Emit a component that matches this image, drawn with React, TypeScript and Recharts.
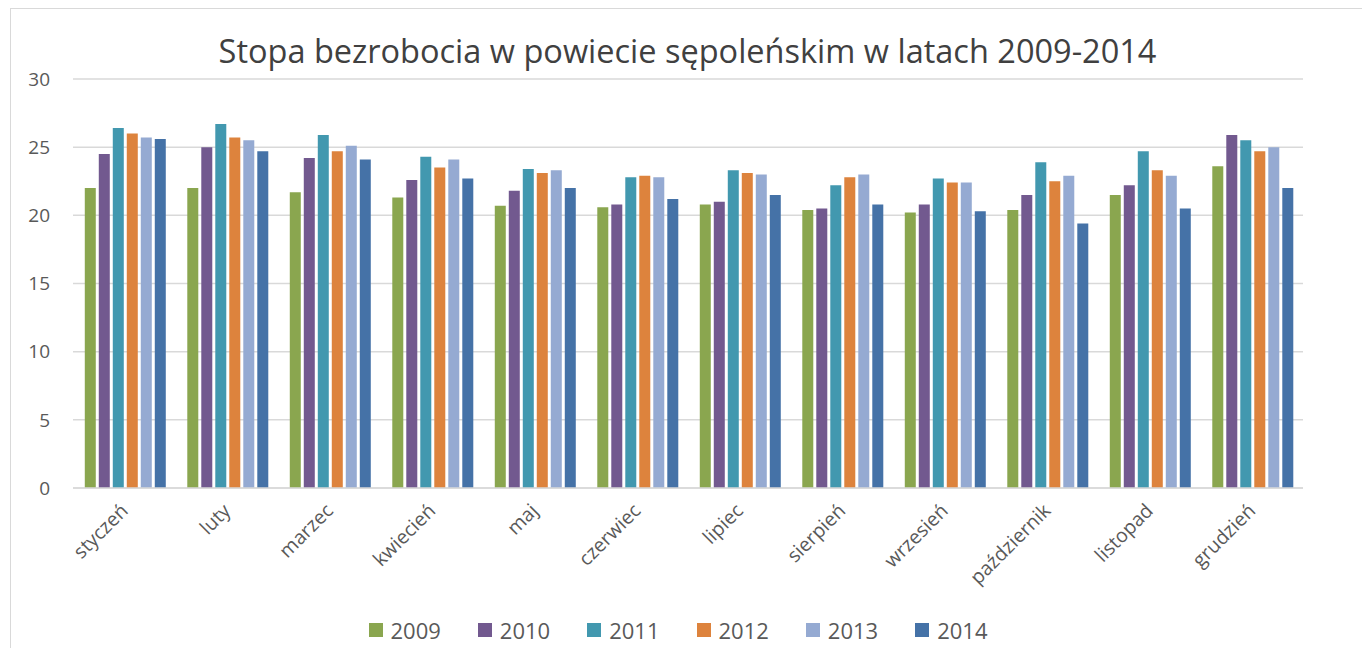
import React from 'react'
import { BarChart, Bar, XAxis, YAxis, CartesianGrid, Legend } from 'recharts'

// Explicit hex colours, Excel 2013 style palette
const COLORS = ['#8aa64f', '#72598f', '#4298af', '#dd833d', '#95aad2', '#4572a7']
const FONT = '"Open Sans", sans-serif'

const months = [
  'styczeń', 'luty', 'marzec', 'kwiecień', 'maj', 'czerwiec',
  'lipiec', 'sierpień', 'wrzesień', 'październik', 'listopad', 'grudzień',
]
const years = ['2009', '2010', '2011', '2012', '2013', '2014']

const r2009 = [22.0, 22.0, 21.7, 21.3, 20.7, 20.6, 20.8, 20.4, 20.2, 20.4, 21.5, 23.6]
const r2010 = [24.5, 25.0, 24.2, 22.6, 21.8, 20.8, 21.0, 20.5, 20.8, 21.5, 22.2, 25.9]
const r2011 = [26.4, 26.7, 25.9, 24.3, 23.4, 22.8, 23.3, 22.2, 22.7, 23.9, 24.7, 25.5]
const r2012 = [26.0, 25.7, 24.7, 23.5, 23.1, 22.9, 23.1, 22.8, 22.4, 22.5, 23.3, 24.7]
const r2013 = [25.7, 25.5, 25.1, 24.1, 23.3, 22.8, 23.0, 23.0, 22.4, 22.9, 22.9, 25.0]
const r2014 = [25.6, 24.7, 24.1, 22.7, 22.0, 21.2, 21.5, 20.8, 20.3, 19.4, 20.5, 22.0]

const yTicks = [0, 5, 10, 15, 20, 25, 30]

const series = [r2009, r2010, r2011, r2012, r2013, r2014]
const data = months.map((m, i) => {
  const row: Record<string, string | number> = { month: m }
  years.forEach((y, k) => {
    row[y] = series[k][i]
  })
  return row
})

// ── rotated month labels ─────────────────────────────────────────────────────

function MonthTick({ x, y, payload }: any) {
  return (
    <text
      x={x + 5}
      y={y + 16}
      transform={`rotate(-45, ${x + 5}, ${y + 16})`}
      textAnchor="end"
      fill="#595959"
      fontSize={19.5}
      fontFamily={FONT}
    >
      {payload.value}
    </text>
  )
}

// ── legend ───────────────────────────────────────────────────────────────────

function YearLegend() {
  return (
    <div style={{ display: 'flex', justifyContent: 'center', height: 30, alignItems: 'center', paddingLeft: 42 }}>
      {years.map((y, k) => (
        <div key={y} style={{ display: 'flex', alignItems: 'center', marginRight: k < years.length - 1 ? 37 : 0 }}>
          <span style={{ width: 14, height: 14, background: COLORS[k], display: 'inline-block', marginRight: 8 }} />
          <span style={{ fontFamily: FONT, fontSize: 22, color: '#595959' }}>{y}</span>
        </div>
      ))}
    </div>
  )
}

export default function App() {
  return (
    <div
      style={{
        position: 'relative',
        marginLeft: 2,
        width: 1355,
        height: 650,
        border: '1px solid #d9d9d9',
        boxSizing: 'border-box',
        background: '#fff',
      }}
    >
      <div
        style={{
          position: 'absolute',
          top: 22,
          left: 0,
          width: 1353,
          textAlign: 'center',
          fontFamily: FONT,
          fontSize: 32.5,
          color: '#404040',
          lineHeight: '40px',
        }}
      >
        Stopa bezrobocia w powiecie sępoleńskim w latach 2009-2014
      </div>
      <BarChart
        width={1353}
        height={640}
        data={data}
        margin={{ top: 70, right: 61, left: 0, bottom: 4 }}
        barCategoryGap="11.5%"
        barGap={3}
      >
        <CartesianGrid vertical={false} stroke="#d9d9d9" strokeWidth={1.5} />
        <XAxis
          dataKey="month"
          interval={0}
          height={127}
          tickLine={false}
          axisLine={{ stroke: '#d9d9d9', strokeWidth: 1.5 }}
          tick={<MonthTick />}
        />
        <YAxis
          width={62}
          domain={[0, 30]}
          ticks={yTicks}
          interval={0}
          axisLine={false}
          tickLine={false}
          tickSize={0}
          tickMargin={23}
          tick={{ fontSize: 19, fontFamily: FONT, fill: '#595959' }}
        />
        <Legend verticalAlign="bottom" content={<YearLegend />} />
        {years.map((y, k) => (
          <Bar key={y} dataKey={y} fill={COLORS[k]} isAnimationActive={false} />
        ))}
      </BarChart>
    </div>
  )
}
